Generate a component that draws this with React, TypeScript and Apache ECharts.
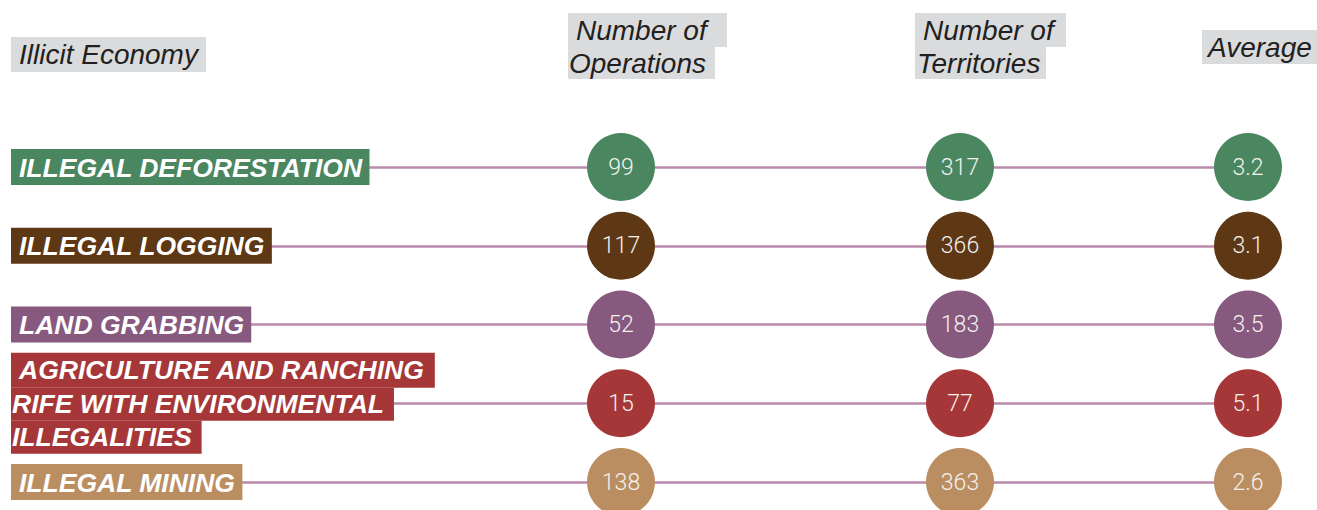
import React, { useEffect, useRef } from "react";
import * as echarts from "echarts";

// ---- data ----
const categories = [
  "ILLEGAL DEFORESTATION",
  "ILLEGAL LOGGING",
  "LAND GRABBING",
  "AGRICULTURE AND RANCHING\nRIFE WITH ENVIRONMENTAL\nILLEGALITIES",
  "ILLEGAL MINING",
];
const operations = [99, 117, 52, 15, 138];
const territories = [317, 366, 183, 77, 363];
const averages = [3.2, 3.1, 3.5, 5.1, 2.6];
const columnNames = ["Number of Operations", "Number of Territories", "Average"];
const columnValues = [operations, territories, averages];
const rowColors = ["#4a8761", "#5e3714", "#87597f", "#a63738", "#bb8e62"];

// ---- layout ----
const GRID_TOP = 167;
const GRID_BOTTOM = 28;
const colCenters = [621, 960, 1248];
const COL_W = 80;
const HEADER_BG = "#dadbdd";
const HEADER_FG = "#231f20";
const LINE_COLOR = "#ba8aac";

type Box = { lines: { text: string; x: number; y: number; w: number; h: number; tx: number }[] };
const headers: Box[] = [
  { lines: [{ text: "Illicit Economy", x: 11, y: 37, w: 195, h: 35, tx: 19 }] },
  {
    lines: [
      { text: "Number of", x: 568, y: 13, w: 159, h: 34, tx: 576 },
      { text: "Operations", x: 568, y: 47, w: 147, h: 32, tx: 569 },
    ],
  },
  {
    lines: [
      { text: "Number of", x: 915, y: 13, w: 151, h: 34, tx: 923 },
      { text: "Territories", x: 915, y: 47, w: 131, h: 32, tx: 917 },
    ],
  },
  { lines: [{ text: "Average", x: 1202, y: 30, w: 120, h: 34, tx: 1208 }] },
];

export default function App() {
  const ref = useRef<HTMLDivElement>(null);
  useEffect(() => {
    document.body.style.margin = "0";
    if (!ref.current) return;
    const chart = echarts.init(ref.current, undefined, { renderer: "svg" });

    const rich: Record<string, any> = {};
    const labelFont = {
      color: "#ffffff",
      fontSize: 26.5,
      fontWeight: "bold",
      fontStyle: "italic",
      fontFamily: "'Liberation Sans', Arial, sans-serif",
    };
    categories.forEach((c, i) => {
      const multi = c.includes("\n");
      rich["r" + i] = {
        ...labelFont,
        backgroundColor: rowColors[i],
        padding: multi ? [4, 10, 4, 8] : [5, 7, 4, 8],
      };
      rich["s" + i] = {
        ...labelFont,
        backgroundColor: rowColors[i],
        padding: [3, 10, 3, 1],
      };
    });

    const grids: any[] = [
      { left: 11, right: 1317 - colCenters[2], top: GRID_TOP, bottom: GRID_BOTTOM, containLabel: false },
    ];
    const xAxes: any[] = [
      { type: "value", gridIndex: 0, min: 0, max: 1, show: false },
    ];
    const yAxes: any[] = [
      {
        type: "category",
        gridIndex: 0,
        data: categories,
        inverse: true,
        boundaryGap: false,
        axisLine: { show: false },
        axisTick: { show: false },
        splitLine: { show: true, lineStyle: { color: LINE_COLOR, width: 2.5 } },
        axisLabel: {
          inside: true,
          margin: 0,
          interval: 0,
          align: "left",
          formatter: (value: string, index: number) =>
            value
              .split("\n")
              .map((l, k) => `{${k === 0 ? "r" : "s"}${index}|${l}}`)
              .join("\n"),
          rich,
        },
      },
    ];
    const series: any[] = [];
    columnNames.forEach((name, j) => {
      const gi = j + 1;
      grids.push({
        left: colCenters[j] - COL_W / 2,
        width: COL_W,
        top: GRID_TOP,
        bottom: GRID_BOTTOM,
      });
      xAxes.push({ type: "category", gridIndex: gi, data: [name], show: false });
      yAxes.push({
        type: "category",
        gridIndex: gi,
        data: categories,
        inverse: true,
        boundaryGap: false,
        show: false,
      });
      series.push({
        type: "scatter",
        name,
        xAxisIndex: gi,
        yAxisIndex: gi,
        symbol: "circle",
        symbolSize: 68,
        z: 5,
        data: categories.map((c, i) => ({
          value: [name, c, columnValues[j][i]],
          itemStyle: { color: rowColors[i], opacity: 1 },
        })),
        itemStyle: { opacity: 1 },
        label: {
          show: true,
          position: "inside",
          formatter: (p: any) => String(p.value[2]),
          color: "#f4f1ee",
          fontSize: 23,
          fontWeight: 300,
          fontFamily: "Roboto, 'Liberation Sans', sans-serif",
        },
        emphasis: { disabled: true },
      });
    });

    const graphic: any[] = [];
    headers.forEach((h) => {
      h.lines.forEach((ln) => {
        graphic.push({
          type: "rect",
          shape: { x: ln.x, y: ln.y, width: ln.w, height: ln.h },
          style: { fill: HEADER_BG },
          silent: true,
        });
      });
      h.lines.forEach((ln) => {
        graphic.push({
          type: "text",
          x: ln.tx,
          y: ln.y + ln.h / 2,
          style: {
            text: ln.text,
            fill: HEADER_FG,
            fontSize: 28,
            fontStyle: "italic",
            fontWeight: "normal",
            fontFamily: "'Liberation Sans', Arial, sans-serif",
            align: "left",
            verticalAlign: "middle",
          },
          silent: true,
        });
      });
    });

    chart.setOption({
      animation: false,
      backgroundColor: "#ffffff",
      grid: grids,
      xAxis: xAxes,
      yAxis: yAxes,
      series,
      graphic,
    });
    return () => chart.dispose();
  }, []);
  return <div ref={ref} style={{ width: 1317, height: 510 }} />;
}
